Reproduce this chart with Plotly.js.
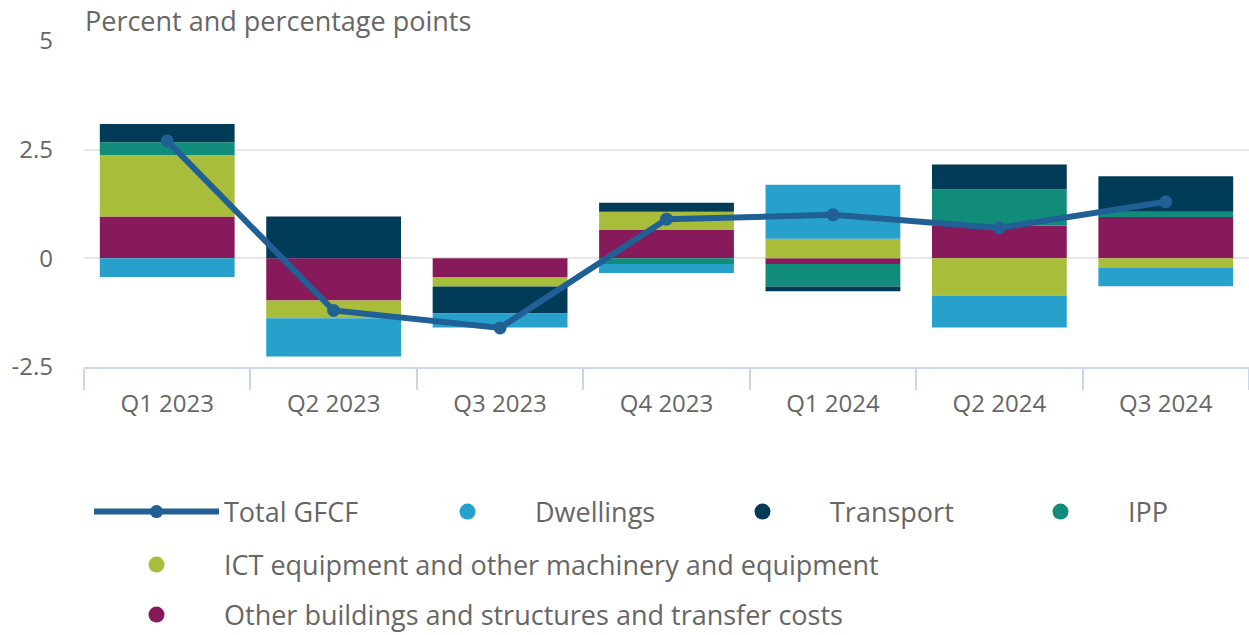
<!DOCTYPE html>
<html>
<head>
<meta charset="utf-8">
<script src="https://cdn.plot.ly/plotly-3.0.1.min.js"></script>
<style>html,body{margin:0;padding:0;background:#fff;}#chart{width:1249px;height:635px;}</style>
</head>
<body>
<div id="chart"></div>
<script>
const categories = ['Q1 2023', 'Q2 2023', 'Q3 2023', 'Q4 2023', 'Q1 2024', 'Q2 2024', 'Q3 2024'];
const dwellings = [-0.43, -0.88, -0.32, -0.21, 1.24, -0.73, -0.42];
const transport = [0.42, 0.96, -0.62, 0.21, -0.11, 0.57, 0.82];
const ipp = [0.30, 0, 0, -0.13, -0.52, 0.84, 0.12];
const ict = [1.41, -0.41, -0.21, 0.42, 0.45, -0.86, -0.22];
const otherBuildings = [0.96, -0.97, -0.44, 0.65, -0.13, 0.75, 0.95];
const totalGFCF = [2.7, -1.2, -1.6, 0.9, 1.0, 0.7, 1.3];

const seriesNames = ['Total GFCF', 'Dwellings', 'Transport', 'IPP',
  'ICT equipment and other machinery and equipment',
  'Other buildings and structures and transfer costs'];

const colors = {
  total: '#206095', dwellings: '#27a0cc', transport: '#003c57',
  ipp: '#118c7b', ict: '#a8bd3a', other: '#871a5b'
};

function bar(name, vals, color) {
  return {type: 'bar', name: name, x: categories, y: vals, showlegend: false,
    marker: {color: color, line: {width: 0}}, hoverinfo: 'x+y+name'};
}
function legendDot(name, color, legend, rank) {
  return {type: 'scatter', mode: 'markers', name: name, x: [null], y: [null],
    marker: {color: color, size: 24, symbol: 'circle'}, legend: legend, legendrank: rank, hoverinfo: 'skip'};
}

const traces = [
  bar(seriesNames[5], otherBuildings, colors.other),
  bar(seriesNames[4], ict, colors.ict),
  bar(seriesNames[3], ipp, colors.ipp),
  bar(seriesNames[2], transport, colors.transport),
  bar(seriesNames[1], dwellings, colors.dwellings),
  {type: 'scatter', mode: 'lines+markers', name: seriesNames[0], x: categories, y: totalGFCF,
   line: {color: colors.total, width: 6}, marker: {color: colors.total, size: 13},
   legend: 'legend', legendrank: 1},
  legendDot(seriesNames[1], colors.dwellings, 'legend2', 2),
  legendDot(seriesNames[2], colors.transport, 'legend3', 3),
  legendDot(seriesNames[3], colors.ipp, 'legend4', 4),
  legendDot(seriesNames[4], colors.ict, 'legend5', 5),
  legendDot(seriesNames[5], colors.other, 'legend6', 6)
];

const family = '"Open Sans", sans-serif';
const grey = '#666666';
const legendFont = {family: family, size: 27, color: grey};
const tickFont = {family: family, size: 24, color: grey};

const FW = 1249, FH = 635;
const L = 84, T = 41, H = 326;

function legendAt(textPx, rowPy) {
  return {orientation: 'h', xanchor: 'left', yanchor: 'middle', font: legendFont,
    itemwidth: 125, bgcolor: 'rgba(0,0,0,0)', borderwidth: 0,
    itemclick: false, itemdoubleclick: false,
    xref: 'container', yref: 'container',
    x: (textPx - 135) / FW, y: (FH - rowPy) / FH};
}

const layout = {
  width: FW, height: FH,
  margin: {l: L, r: 0, t: T, b: FH - T - H, autoexpand: false},
  paper_bgcolor: '#ffffff', plot_bgcolor: '#ffffff',
  font: {family: family, size: 22, color: grey},
  barmode: 'relative', bargap: 0.19,
  showlegend: true,
  xaxis: {type: 'category', showline: true, linecolor: '#ccd6eb', linewidth: 2,
    ticks: 'outside', tickson: 'boundaries', ticklen: 21, tickcolor: '#ccd6eb', tickwidth: 2,
    ticklabelstandoff: 14, showgrid: false, tickfont: tickFont, fixedrange: true},
  yaxis: {range: [-2.5, 5], tickvals: [-2.5, 0, 2.5, 5], ticktext: ['-2.5', '0', '2.5', '5'],
    showgrid: true, gridcolor: '#e6e6e6', gridwidth: 2, zeroline: false, showline: false,
    ticks: '', ticklabelstandoff: 30, tickfont: tickFont, fixedrange: true},
  legend: legendAt(224, 512),
  legend2: legendAt(535, 512),
  legend3: legendAt(830, 512),
  legend4: legendAt(1128, 512),
  legend5: legendAt(224, 565),
  legend6: legendAt(224, 615),
  annotations: [{text: 'Percent and percentage points', xref: 'paper', yref: 'paper',
    x: 0, y: 1, xanchor: 'left', yanchor: 'bottom', yshift: 0, xshift: -1, showarrow: false,
    font: legendFont}]
};

Plotly.newPlot('chart', traces, layout, {displayModeBar: false, staticPlot: true});
</script>
</body>
</html>
